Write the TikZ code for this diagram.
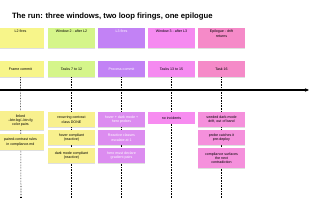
\documentclass[tikz,border=0pt]{standalone}
\usepackage{fontspec}
\setmainfont{Liberation Sans}
\usetikzlibrary{shadows,arrows.meta}
\definecolor{cyel}{HTML}{F7F58A}
\definecolor{cgrn}{HTML}{D5F58A}
\definecolor{cpur}{HTML}{C282F5}
\definecolor{cmag}{HTML}{F58AF0}
\definecolor{cpnk}{HTML}{F58AC8}
\definecolor{lyel}{HTML}{F8F08E}
\definecolor{lpur}{HTML}{DC8CF0}
\definecolor{lmag}{HTML}{F78CF0}
\definecolor{lpnk}{HTML}{F590DC}
\tikzset{
  note/.style={minimum width=47pt, inner sep=1pt, align=center,
    font=\fontsize{3.6}{4.3}\selectfont,
    drop shadow={shadow xshift=0.2pt, shadow yshift=-0.7pt, opacity=0.25}},
  hdr/.style={note, minimum height=20pt, anchor=north, text depth=14pt, inner sep=0pt},
  sub/.style={note, minimum height=16pt, anchor=north},
  low/.style={note, minimum height=15pt, anchor=north},
  vline/.style={densely dotted, line width=0.6pt},
  endmark/.style={fill=black, minimum size=1.6pt, inner sep=0pt}
}
\begin{document}
\begin{tikzpicture}[x=1pt,y=-1pt]
\useasboundingbox (0,0) rectangle (320,213);
\node[anchor=west, font=\bfseries\fontsize{7.7}{9}\selectfont] (title) at (8.5,17) {The run: three windows, two loop firings, one epilogue};
% header row
\node[hdr, fill=cyel] (h1) at (20.5,28) {L2 fires};
\node[hdr, fill=cgrn] (h2) at (71.5,28) {Window 2 - after L2};
\node[hdr, fill=cpur, text=white] (h3) at (121.5,28) {L3 fires};
\node[hdr, fill=cmag] (h4) at (171.5,28) {Window 3 - after L3};
\node[hdr, fill=cpnk, text depth=9pt] (h5) at (221.5,28) {Epilogue - drift\\returns};
% second row
\node[sub, fill=cyel] (s1) at (20.5,61) {Frame commit};
\node[sub, fill=cgrn] (s2) at (71.5,61) {Tasks 7 to 12};
\node[sub, fill=cpur, text=white] (s3) at (121.5,61) {Process commit};
\node[sub, fill=cmag] (s4) at (171.5,61) {Tasks 13 to 15};
\node[sub, fill=cpnk] (s5) at (221.5,61) {Task 16};
% timeline
\coordinate (tl0) at (0,90);
\coordinate (tl1) at (309,90);
\draw[line width=1.2pt, -{Stealth[length=4pt,width=3.5pt]}] (tl0) -- (tl1);
% dotted lines
\foreach \i/\x in {1/21,2/71.5,3/121.5,4/171.5,5/221.5}{
  \node[endmark] (e\i) at (\x,197.5) {};
  \draw[vline] (s\i.south) -- (e\i.north);
}
% lower boxes col 1
\node[low, fill=lyel, minimum height=19pt] (a1) at (20.5,111) {linked\\--btn-bg/--btn-fg\\color pairs};
\node[low, fill=lyel, minimum height=16pt] (a2) at (20.5,134) {paired-contrast rules\\in compliance.md};
% col 2
\node[low, fill=lyel] (b1) at (71.5,112) {recurring contrast\\class DONE};
\node[low, fill=lyel] (b2) at (71.5,130) {hover compliant\\(reactive)};
\node[low, fill=lyel] (b3) at (71.5,148) {dark mode compliant\\(reactive)};
% col 3
\node[low, fill=lpur, text=white] (c1) at (121.5,112) {hover + dark mode +\\hero probes};
\node[low, fill=lpur, text=white] (c2) at (121.5,130) {Reactive classes\\escalate at 1};
\node[low, fill=lpur, text=white] (c3) at (121.5,148) {hero must declare\\gradient pairs};
% col 4
\node[low, fill=lmag, minimum height=11.5pt] (d1) at (171.5,112) {no incidents};
% col 5
\node[low, fill=lpnk] (f1) at (221.5,112) {seeded dark-mode\\drift, out of band};
\node[low, fill=lpnk] (f2) at (221.5,130) {probe catches it\\pre-deploy};
\node[low, fill=lpnk, minimum height=20pt] (f3) at (221.5,148) {compliance surfaces\\the next\\contradiction};
\end{tikzpicture}
\end{document}
